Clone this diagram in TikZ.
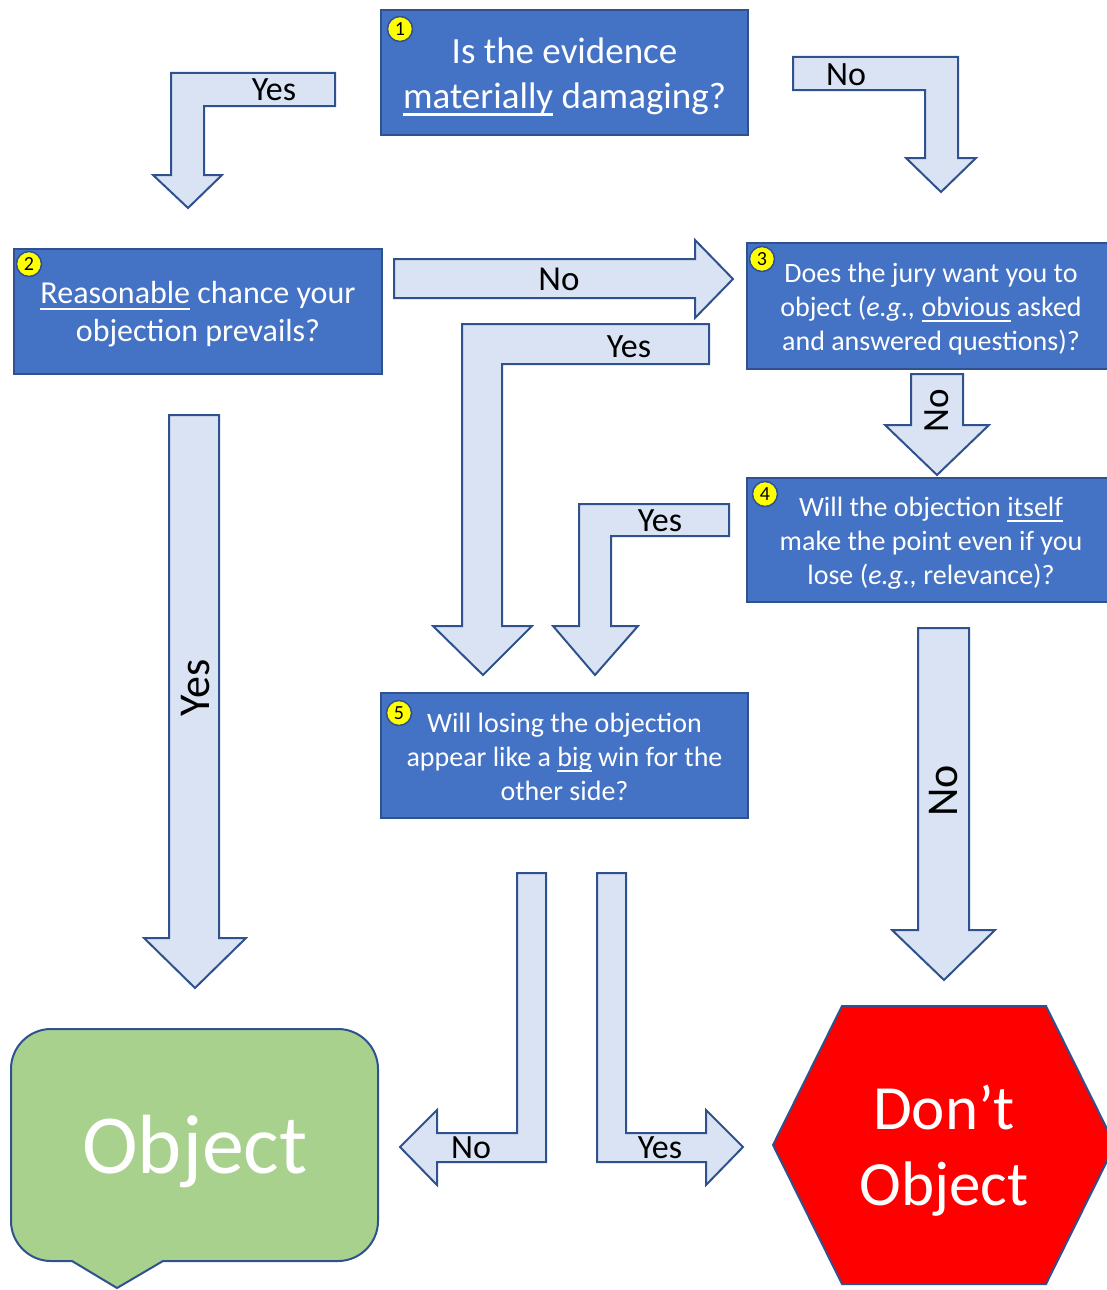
\documentclass[tikz,border=0pt]{standalone}
\usepackage{fontspec}
\setmainfont{Carlito}
\definecolor{boxblue}{HTML}{4472C4}
\definecolor{edgeblue}{HTML}{2F528F}
\definecolor{arrowfill}{HTML}{DAE3F3}
\definecolor{objgreen}{HTML}{A9D18E}
\definecolor{stopred}{HTML}{FF0000}
\definecolor{badgeyellow}{HTML}{FFFF00}
\newcommand\myul[1]{\setbox0\hbox{#1}\rlap{\rule[-0.2em]{\wd0}{0.07em}}\box0\relax}
\begin{document}
\begin{tikzpicture}[x=1pt,y=-1pt,
  qbox/.style={draw=edgeblue,line width=2pt,fill=boxblue,inner sep=0pt,
    minimum width=367pt,minimum height=125pt},
  qtext/.style={text=white,inner sep=0pt,align=center},
  blockarrow/.style={draw=edgeblue,line width=2pt,fill=arrowfill,line join=miter},
  badge/.style={circle,draw=edgeblue,line width=1.5pt,fill=badgeyellow,minimum size=25pt,
    inner sep=0pt,font=\fontsize{20}{20}\selectfont},
  lbl/.style={text=black,inner sep=0pt,font=\fontsize{34}{40}\selectfont},
  qsmall/.style={font=\fontsize{28}{34}\selectfont},
]
\useasboundingbox (0,0) rectangle (1107,1290);
\clip (0,0) rectangle (1107,1290);

% question boxes
\node[qbox] (q1) at (564.5,72.5) {};
\node[qtext,font=\fontsize{37}{45}\selectfont] (t1) at ([yshift=-4pt]q1.center)
  {Is the evidence\\\myul{materially} damaging?};
\node[qbox,minimum width=368pt] (q2) at (198,311.5) {};
\node[qtext,font=\fontsize{32}{38}\selectfont] (t2) at ([yshift=-3pt]q2.center)
  {\myul{Reasonable} chance your\\objection prevails?};
\node[qbox,minimum width=368pt,minimum height=126pt] (q3) at (931,306) {};
\node[qtext,qsmall] (t3) at ([yshift=-3pt]q3.center)
  {Does the jury want you to\\object (\textit{e.g.,}\ \myul{obvious} asked\\and answered questions)?};
\node[qbox,minimum width=368pt,minimum height=124pt] (q4) at (931,540) {};
\node[qtext,qsmall] (t4) at ([yshift=-3pt]q4.center)
  {Will the objection \myul{itself}\\make the point even if you\\lose (\textit{e.g.,}\ relevance)?};
\node[qbox] (q5) at (564.5,755.5) {};
\node[qtext,qsmall] (t5) at ([yshift=-1pt]q5.center)
  {Will losing the objection\\appear like a \myul{big} win for the\\other side?};

% badges
\node[badge] (b1) at (400,29) {1};
\node[badge] (b2) at (29,264) {2};
\node[badge] (b3) at (762,259) {3};
\node[badge] (b4) at (765,494) {4};
\node[badge] (b5) at (399,713) {5};

% outcome shapes
\draw[draw=edgeblue,line width=2pt,fill=objgreen]
  (163,1261) -- (338,1261) .. controls (360,1261) and (378,1243) .. (378,1221)
  -- (378,1069) .. controls (378,1047) and (360,1029) .. (338,1029)
  -- (51,1029) .. controls (29,1029) and (11,1047) .. (11,1069)
  -- (11,1221) .. controls (11,1243) and (29,1261) .. (51,1261)
  -- (72,1261) -- (117,1288) -- cycle;
\node[text=white,inner sep=0pt,font=\fontsize{84}{90}\selectfont] (obj) at (195,1152) {Object};

\draw[draw=edgeblue,line width=2pt,fill=stopred,line join=miter]
  (842,1006) -- (1046,1006) -- (1115,1145) -- (1046,1284) -- (842,1284) -- (773,1145) -- cycle;
\node[text=white,inner sep=0pt,align=center,font=\fontsize{63}{76}\selectfont] (dont) at (944,1151)
  {Don’t\\Object};

% block arrows
\draw[blockarrow] (335,73) -- (171,73) -- (171,175) -- (153,175) -- (188,208) -- (222,175)
  -- (204,175) -- (204,106) -- (335,106) -- cycle;
\node[lbl,anchor=base] (la) at (274,100) {Yes};

\draw[blockarrow] (793,57) -- (958,57) -- (958,158) -- (976,158) -- (941,192) -- (906,158)
  -- (925,158) -- (925,90) -- (793,90) -- cycle;
\node[lbl,anchor=base] (lb) at (846,85) {No};

\draw[blockarrow] (394,259) -- (695,259) -- (695,240) -- (733,279) -- (695,318) -- (695,298)
  -- (394,298) -- cycle;
\node[lbl,anchor=base,font=\fontsize{35}{40}\selectfont] (lc) at (559,290) {No};

\draw[blockarrow] (709,324) -- (462,324) -- (462,626) -- (433,626) -- (483,675) -- (532,626)
  -- (502,626) -- (502,364) -- (709,364) -- cycle;
\node[lbl,anchor=base] (ld) at (629,357) {Yes};

\draw[blockarrow] (729,504) -- (579,504) -- (579,626) -- (553,626) -- (595,675) -- (638,626)
  -- (611,626) -- (611,536) -- (729,536) -- cycle;
\node[lbl,anchor=base] (le) at (660,531) {Yes};

\draw[blockarrow] (911,374) -- (963,374) -- (963,425) -- (989,425) -- (937,475) -- (885,425)
  -- (911,425) -- cycle;
\node[lbl,rotate=90,font=\fontsize{37}{40}\selectfont] (lf) at (937,411) {No};

\draw[blockarrow] (169,415) -- (219,415) -- (219,938) -- (246,938) -- (195,988) -- (144,938)
  -- (169,938) -- cycle;
\node[lbl,rotate=90,font=\fontsize{44}{48}\selectfont] (lg) at (196,688) {Yes};

\draw[blockarrow] (918,628) -- (969,628) -- (969,930) -- (995,930) -- (944,980) -- (892,930)
  -- (918,930) -- cycle;
\node[lbl,rotate=90,font=\fontsize{44}{48}\selectfont] (lh) at (944,791) {No};

\draw[blockarrow] (517,873) -- (546,873) -- (546,1162) -- (437,1162) -- (437,1185) -- (400,1147)
  -- (437,1110) -- (437,1133) -- (517,1133) -- cycle;
\node[lbl,anchor=base] (li) at (471,1158) {No};

\draw[blockarrow] (597,873) -- (626,873) -- (626,1133) -- (706,1133) -- (706,1110) -- (743,1147)
  -- (706,1185) -- (706,1162) -- (597,1162) -- cycle;
\node[lbl,anchor=base] (lj) at (660,1158) {Yes};
\end{tikzpicture}
\end{document}
